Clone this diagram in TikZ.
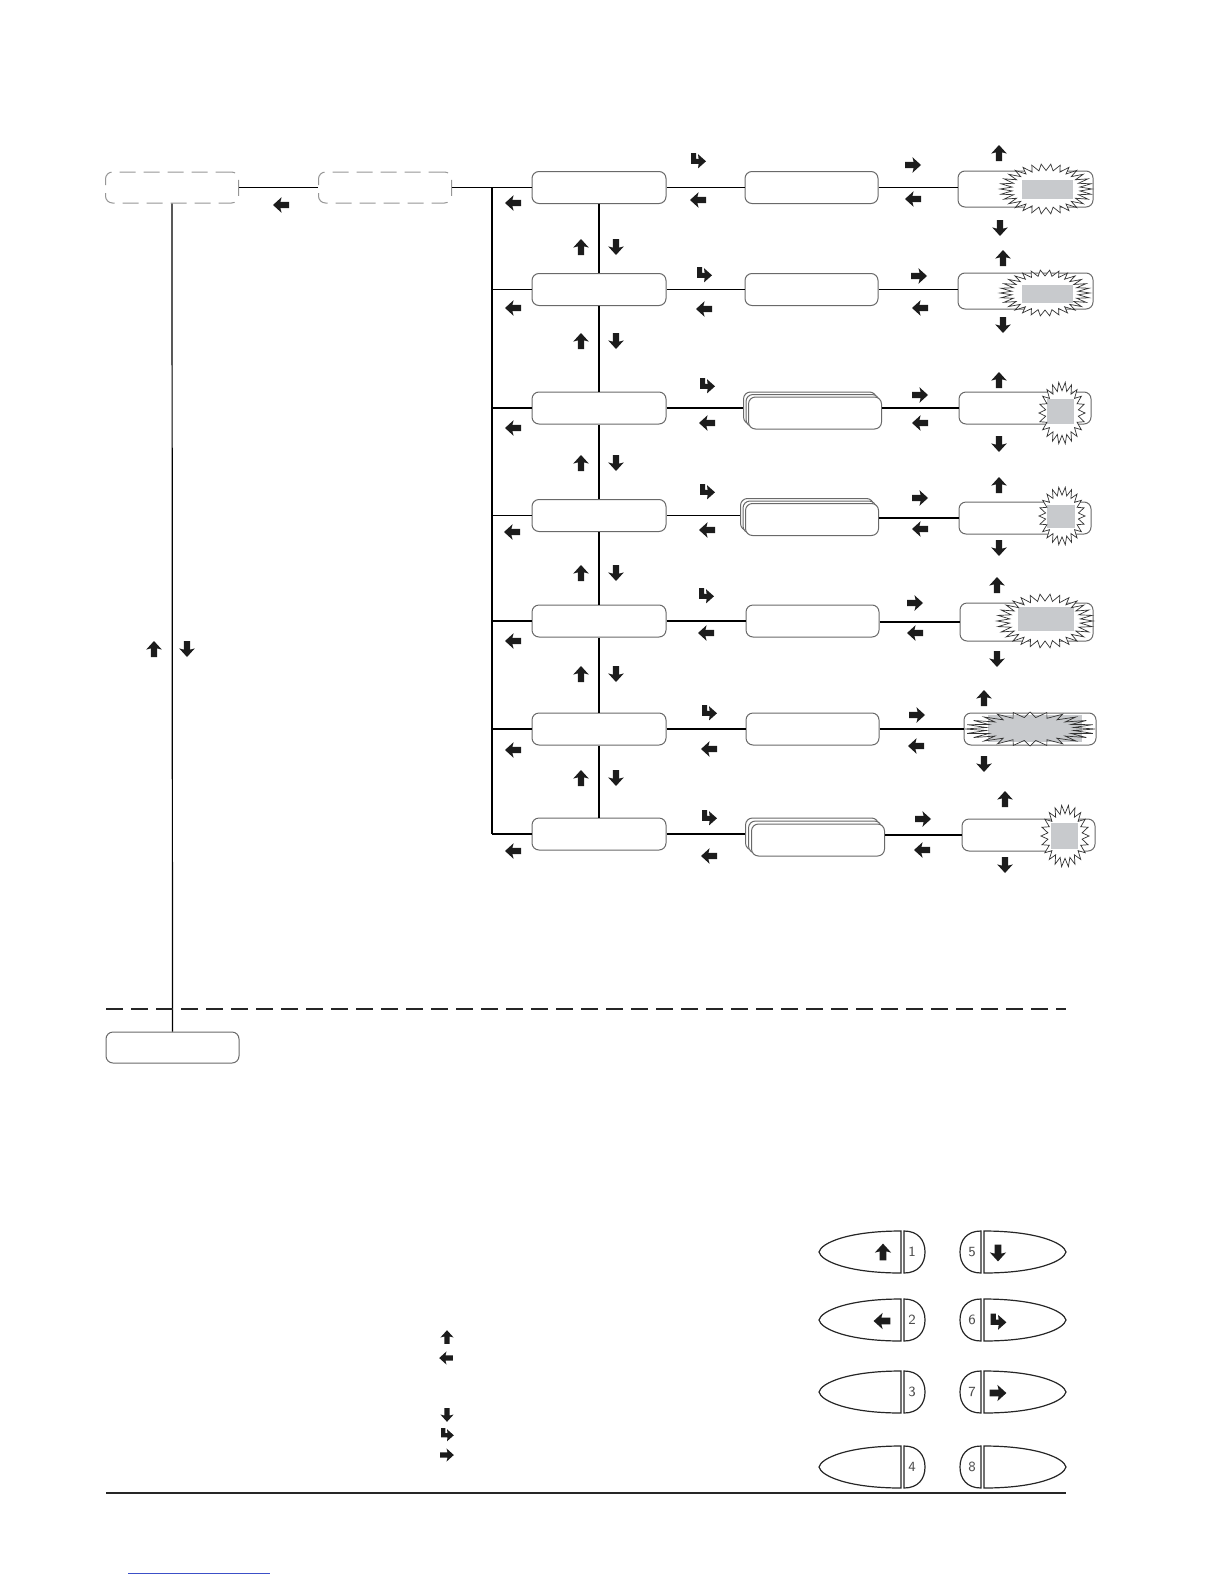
\documentclass[tikz,border=0pt]{standalone}
\usetikzlibrary{calc}
\definecolor{boxgray}{RGB}{105,105,105}
\definecolor{dashgray}{RGB}{150,150,150}
\definecolor{fillgray}{RGB}{200,202,205}
\definecolor{arrowcol}{RGB}{28,28,28}
\definecolor{linkblue}{RGB}{60,80,200}
\tikzset{
  conn/.style={draw=black, line width=0.6pt},
  boxbase/.style={draw=boxgray, line width=0.5pt, rounded corners=3.5pt, fill=white, inner sep=0pt, minimum width=66.5pt, minimum height=16pt},
  dashbox/.style={boxbase, draw=dashgray, dash pattern=on 8pt off 4pt, minimum height=15.5pt},
  burstline/.style={draw=black!80, line width=0.35pt, line join=miter},
  keyline/.style={draw=black!85, line width=0.6pt},
  keynum/.style={font=\fontsize{7}{8}\sffamily, text=black!70, inner sep=0pt},
  arrU/.pic={\fill[arrowcol] (0,-8) -- (7.8,0.6) -- (3.2,-0.6) -- (3.2,8) -- (-3.2,8) -- (-3.2,-0.6) -- (-7.8,0.6) -- cycle;},
  arrD/.pic={\fill[arrowcol] (0,8) -- (7.8,-0.6) -- (3.2,0.6) -- (3.2,-8) -- (-3.2,-8) -- (-3.2,0.6) -- (-7.8,-0.6) -- cycle;},
  arrL/.pic={\fill[arrowcol] (-8,0) -- (0.6,-7.8) -- (-0.6,-3.2) -- (8,-3.2) -- (8,3.2) -- (-0.6,3.2) -- (0.6,7.8) -- cycle;},
  arrR/.pic={\fill[arrowcol] (8,0) -- (-0.6,-7.8) -- (0.6,-3.2) -- (-8,-3.2) -- (-8,3.2) -- (0.6,3.2) -- (-0.6,7.8) -- cycle;},
  arrH/.pic={\fill[arrowcol] (-7,-8) -- (-2,-8) -- (-2,-2.2) -- (0.6,-2.2) -- (0,-6.8) -- (8,0.3) -- (0,7.4) -- (0.6,2.8) -- (-7,2.8) -- cycle;},
}
\newcommand\burstpath[5]{(#1+#3,#2) \foreach \k in {1,...,\bM} { -- ({#1+#3*(1-mod(\k,2)*(1-#5))*cos(\k*180/\bN)},{#2+#4*(1-mod(\k,2)*(1-#5))*sin(\k*180/\bN)}) } -- cycle}
\begin{document}
\begin{tikzpicture}[x=0.5pt,y=-0.5pt]
\useasboundingbox (0,0) rectangle (1224,1584);

% left column boxes
\node[dashbox] (L1) at (172,187.5) {};
\node[dashbox] (L2) at (385,187.5) {};
\node[boxbase, minimum height=15.5pt] (LB) at (172.5,1047.5) {};

% column A
\node[boxbase, minimum width=67pt] (A1) at (599,187.5) {};
\node[boxbase, minimum width=67pt] (A2) at (599,289.5) {};
\node[boxbase, minimum width=67pt] (A3) at (599,408) {};
\node[boxbase, minimum width=67pt] (A4) at (599,515.5) {};
\node[boxbase, minimum width=67pt] (A5) at (599,621) {};
\node[boxbase, minimum width=67pt] (A6) at (599,729) {};
\node[boxbase, minimum width=67pt] (A7) at (599,834) {};

% column B
\node[boxbase] (B1) at (811.5,187.5) {};
\node[boxbase] (B2) at (811.5,289.5) {};
\node[boxbase] (B3c) at (810,408) {};
\node[boxbase] (B3b) at (812.5,410.5) {};
\node[boxbase] (B3) at (815,413) {};
\node[boxbase] (B4c) at (807,514.5) {};
\node[boxbase] (B4b) at (809.5,517) {};
\node[boxbase] (B4) at (812,519.5) {};
\node[boxbase] (B5) at (812.5,621) {};
\node[boxbase] (B6) at (812.5,729) {};
\node[boxbase] (B7c) at (812,834) {};
\node[boxbase] (B7b) at (815,837) {};
\node[boxbase] (B7) at (818,840) {};

% column C
\node[boxbase, minimum width=67.5pt, minimum height=18pt] (C1) at (1025.5,189) {};
\node[boxbase, minimum width=67.5pt, minimum height=18pt] (C2) at (1025.5,291) {};
\node[boxbase, minimum width=66pt] (C3) at (1025,408) {};
\node[boxbase, minimum width=66pt] (C4) at (1025,518) {};
\node[boxbase, minimum width=66.5pt, minimum height=19pt] (C5) at (1026.5,622) {};
\node[boxbase, minimum width=66pt] (C6) at (1030,729) {};
\node[boxbase, minimum width=66.5pt] (C7) at (1028.5,835) {};

% trunk coordinates
\coordinate (T1) at (492,187.5);
\coordinate (T2) at (492,289.5);
\coordinate (T3) at (492,408);
\coordinate (T4) at (492,515.5);
\coordinate (T5) at (492,621);
\coordinate (T6) at (492,729);
\coordinate (T7) at (492,834);

% connectors
\draw[conn] (L1.east) -- (L2.west);
\draw[conn] (L2.east) -- (A1.west);
\draw[conn] (T1) -- (T7);
\foreach \i in {2,...,7} { \draw[conn] (T\i) -- (A\i.west); }
\draw[conn] (L1.south) -- (LB.north);
\draw[conn] (A1.south) -- (A2.north);
\draw[conn] (A2.south) -- (A3.north);
\draw[conn] (A3.south) -- (A4.north);
\draw[conn] (A4.south) -- (A5.north);
\draw[conn] (A5.south) -- (A6.north);
\draw[conn] (A6.south) -- (A7.north);
\draw[conn] (A1.east) -- (B1.west);
\draw[conn] (A2.east) -- (B2.west);
\draw[conn] (A3.east) -- (A3.east -| B3c.west);
\draw[conn] (A4.east) -- (A4.east -| B4c.west);
\draw[conn] (A5.east) -- (B5.west);
\draw[conn] (A6.east) -- (B6.west);
\draw[conn] (A7.east) -- (A7.east -| B7c.west);
\draw[conn] (B1.east) -- (B1.east -| C1.west);
\draw[conn] (B2.east) -- (B2.east -| C2.west);
\draw[conn] (B3.east |- C3.west) -- (C3.west);
\draw[conn] (B4.east |- C4.west) -- (C4.west);
\draw[conn] (B5.east |- C5.west) -- (C5.west);
\draw[conn] (B6.east |- C6.west) -- (C6.west);
\draw[conn] (B7.east |- C7.west) -- (C7.west);

% bursts
\def\bN{30}\def\bM{59}
\fill[white] \burstpath{1046}{189}{46}{25}{0.74};
\fill[fillgray] (1022,180) rectangle (1073,199);
\draw[burstline] \burstpath{1046}{189}{46}{25}{0.74};
\fill[white] \burstpath{1045}{293}{45}{23}{0.74};
\fill[fillgray] (1022,285) rectangle (1073,303);
\draw[burstline] \burstpath{1045}{293}{45}{23}{0.74};
\fill[white] \burstpath{1045}{621}{48}{27}{0.74};
\fill[fillgray] (1018,607) rectangle (1074,631);
\draw[burstline] \burstpath{1045}{621}{48}{27}{0.74};
\def\bN{24}\def\bM{47}
\fill[white] \burstpath{1030}{729}{65}{17}{0.68};
\fill[fillgray] (988,715) rectangle (1082,742);
\draw[burstline] \burstpath{1030}{729}{65}{17}{0.68};
\def\bN{22}\def\bM{43}
\fill[white] \burstpath{1062}{413}{23}{31}{0.72};
\fill[fillgray] (1047,399) rectangle (1074,424);
\draw[burstline] \burstpath{1062}{413}{23}{31}{0.72};
\fill[white] \burstpath{1062}{516}{23}{29}{0.72};
\fill[fillgray] (1047,505) rectangle (1075,528);
\draw[burstline] \burstpath{1062}{516}{23}{29}{0.72};
\fill[white] \burstpath{1065}{836}{24}{31}{0.72};
\fill[fillgray] (1051,823) rectangle (1078,849);
\draw[burstline] \burstpath{1065}{836}{24}{31}{0.72};

% arrows
\pic at (281,205) {arrL};
\pic at (154,649) {arrU};
\pic at (187,649) {arrD};
\foreach \x/\y in {513/203,513/308,513/428,512/532,513/641,513/750,513/851,
  698/200,704/309,707/423,707/530,706/633,709/749,709/856,
  913/199,920/308,920/423,920/529,915/633,916/746,922/850}
  { \pic at (\x,\y) {arrL}; }
\foreach \x/\y in {698/161,704/275,707/386,707/492,706/596,709/713,709/818}
  { \pic at (\x,\y) {arrH}; }
\foreach \x/\y in {913/165,919/276,920/395,920/498,915/603,917/715,923/819}
  { \pic at (\x,\y) {arrR}; }
\foreach \x/\y in {999/153,1003/258,999/380,999/485,997/585,984/698,1005/799}
  { \pic at (\x,\y) {arrU}; }
\foreach \x/\y in {1000/228,1003/325,999/444,999/548,997/659,984/764,1005/865}
  { \pic at (\x,\y) {arrD}; }
\foreach \y in {247,341,463,573,674,778}
  { \pic at (581,\y) {arrU}; \pic at (616,\y) {arrD}; }

% separators
\draw[draw=black!85, line width=0.6pt, dash pattern=on 8.5pt off 4pt] (106,1009) -- (1066,1009);
\draw[draw=black!85, line width=0.75pt] (106,1493) -- (1066,1493);
\draw[draw=linkblue, line width=0.5pt] (128,1573) -- (270,1573);

% legend arrows
\pic[scale=0.85] at (447,1337) {arrU};
\pic[scale=0.85] at (446,1358) {arrL};
\pic[scale=0.85] at (447,1415) {arrD};
\pic[scale=0.85] at (447,1435) {arrH};
\pic[scale=0.85] at (447,1455) {arrR};

% keys
\foreach \n/\c in {1/1252,2/1320,3/1392,4/1467} {
  \draw[keyline, fill=white] (901,\c-21) .. controls (848,\c-21) and (821,\c-9) .. (819,\c) .. controls (821,\c+9) and (848,\c+21) .. (901,\c+21) -- cycle;
  \draw[keyline, fill=white] (904,\c-21) .. controls (918,\c-21) and (925,\c-12) .. (925,\c) .. controls (925,\c+12) and (918,\c+21) .. (904,\c+21) -- cycle;
  \node[keynum] (kn\n) at (912,\c) {\n};
}
\foreach \n/\c in {5/1252,6/1320,7/1392,8/1467} {
  \draw[keyline, fill=white] (981,\c-21) .. controls (967,\c-21) and (960,\c-12) .. (960,\c) .. controls (960,\c+12) and (967,\c+21) .. (981,\c+21) -- cycle;
  \draw[keyline, fill=white] (984,\c-21) .. controls (1037,\c-21) and (1064,\c-9) .. (1066,\c) .. controls (1064,\c+9) and (1037,\c+21) .. (984,\c+21) -- cycle;
  \node[keynum] (kn\n) at (972,\c) {\n};
}
\pic[scale=1.05] at (883,1252) {arrU};
\pic[scale=1.05] at (882,1321) {arrL};
\pic[scale=1.05] at (998,1253) {arrD};
\pic[scale=1.05] at (998,1322) {arrH};
\pic[scale=1.05] at (998,1393) {arrR};
\end{tikzpicture}
\end{document}
